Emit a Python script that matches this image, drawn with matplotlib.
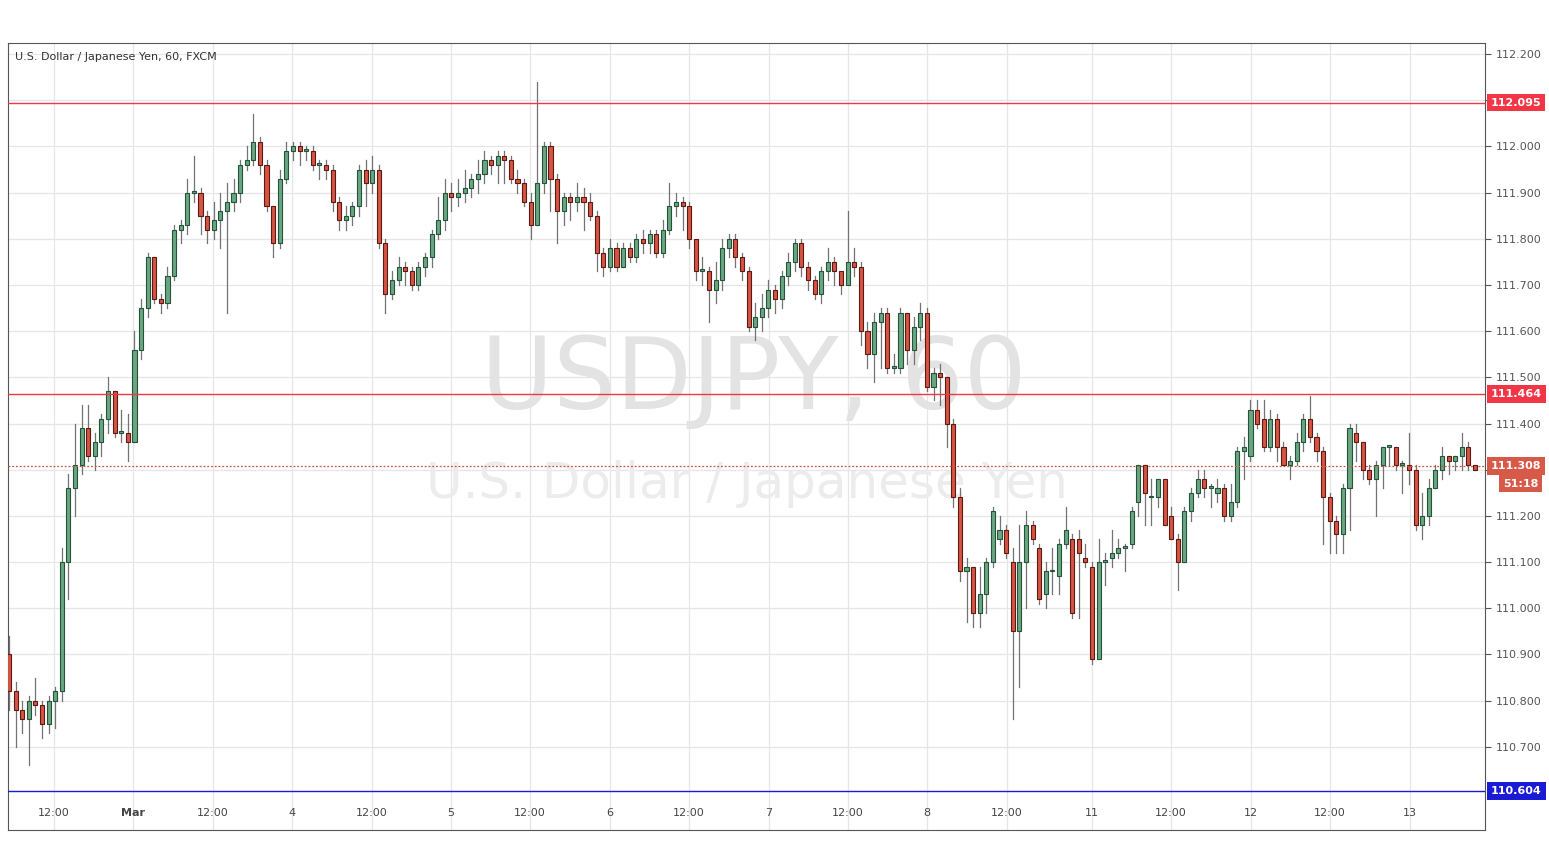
import matplotlib
matplotlib.use("Agg")
import matplotlib.pyplot as plt
from matplotlib.patches import Rectangle
from matplotlib.transforms import blended_transform_factory

# hourly candles
closes = [
    110.82, 110.78, 110.76, 110.80, 110.79, 110.75, 110.80, 110.82, 111.10, 111.26,
    111.31, 111.39, 111.33, 111.36, 111.41, 111.47, 111.38, 111.38, 111.36, 111.56,
    111.65, 111.76, 111.67, 111.66, 111.72, 111.82, 111.83, 111.90, 111.90, 111.85,
    111.82, 111.84, 111.86, 111.88, 111.90, 111.96, 111.97, 112.01, 111.96, 111.87,
    111.79, 111.93, 111.99, 112.00, 111.99, 111.99, 111.96, 111.96, 111.95, 111.88,
    111.84, 111.85, 111.87, 111.95, 111.92, 111.95, 111.79, 111.68, 111.71, 111.74,
    111.73, 111.70, 111.74, 111.76, 111.81, 111.84, 111.90, 111.89, 111.90, 111.91,
    111.93, 111.94, 111.97, 111.96, 111.98, 111.97, 111.93, 111.92, 111.88, 111.83,
    111.92, 112.00, 111.93, 111.86, 111.89, 111.88, 111.89, 111.88, 111.85, 111.77,
    111.74, 111.78, 111.74, 111.78, 111.76, 111.80, 111.79, 111.81, 111.77, 111.82,
    111.87, 111.88, 111.87, 111.80, 111.73, 111.73, 111.69, 111.71, 111.78, 111.80,
    111.76, 111.73, 111.61, 111.63, 111.65, 111.69, 111.67, 111.72, 111.75, 111.79,
    111.74, 111.71, 111.68, 111.73, 111.75, 111.73, 111.70, 111.75, 111.74, 111.60,
    111.55, 111.62, 111.64, 111.52, 111.52, 111.64, 111.56, 111.61, 111.64, 111.48,
    111.51, 111.50, 111.40, 111.24, 111.08, 111.09, 110.99, 111.03, 111.10, 111.21,
    111.17, 111.12, 110.95, 111.10, 111.18, 111.15, 111.02, 111.08, 111.08, 111.14,
    111.17, 110.99, 111.12, 111.10, 110.89, 111.10, 111.10, 111.12, 111.13, 111.13,
    111.21, 111.31, 111.25, 111.24, 111.28, 111.18, 111.15, 111.10, 111.21, 111.25,
    111.28, 111.26, 111.26, 111.26, 111.20, 111.23, 111.34, 111.35, 111.43, 111.40,
    111.35, 111.41, 111.35, 111.31, 111.32, 111.36, 111.41, 111.37, 111.34, 111.24,
    111.19, 111.16, 111.26, 111.39, 111.36, 111.30, 111.28, 111.31, 111.35, 111.35,
    111.31, 111.31, 111.30, 111.18, 111.20, 111.26, 111.30, 111.33, 111.32, 111.33,
    111.35, 111.31, 111.30,
]
highs = [
    110.94, 110.84, 110.80, 110.81, 110.85, 110.80, 110.81, 110.83, 111.13, 111.29,
    111.40, 111.44, 111.44, 111.38, 111.42, 111.50, 111.47, 111.43, 111.42, 111.60,
    111.67, 111.77, 111.76, 111.68, 111.74, 111.83, 111.84, 111.93, 111.98, 111.91,
    111.86, 111.88, 111.90, 111.92, 111.93, 111.97, 112.00, 112.07, 112.02, 111.97,
    111.87, 111.95, 112.01, 112.01, 112.01, 112.00, 112.00, 111.97, 111.97, 111.96,
    111.89, 111.87, 111.88, 111.96, 111.97, 111.98, 111.96, 111.80, 111.73, 111.76,
    111.75, 111.74, 111.75, 111.77, 111.82, 111.89, 111.93, 111.92, 111.93, 111.95,
    111.94, 111.97, 111.99, 111.98, 111.99, 111.99, 111.98, 111.95, 111.93, 111.90,
    112.14, 112.01, 112.01, 111.94, 111.90, 111.90, 111.92, 111.91, 111.90, 111.86,
    111.78, 111.80, 111.79, 111.79, 111.79, 111.81, 111.82, 111.82, 111.82, 111.84,
    111.92, 111.90, 111.89, 111.88, 111.79, 111.76, 111.74, 111.75, 111.80, 111.81,
    111.81, 111.77, 111.74, 111.66, 111.68, 111.71, 111.70, 111.73, 111.77, 111.80,
    111.80, 111.75, 111.72, 111.74, 111.78, 111.76, 111.72, 111.86, 111.78, 111.75,
    111.62, 111.64, 111.65, 111.65, 111.55, 111.65, 111.64, 111.63, 111.66, 111.65,
    111.52, 111.53, 111.50, 111.41, 111.26, 111.11, 111.09, 111.09, 111.11, 111.22,
    111.20, 111.18, 111.13, 111.18, 111.21, 111.19, 111.14, 111.10, 111.13, 111.15,
    111.22, 111.16, 111.17, 111.14, 111.10, 111.15, 111.12, 111.17, 111.15, 111.14,
    111.22, 111.31, 111.31, 111.28, 111.28, 111.28, 111.22, 111.16, 111.22, 111.26,
    111.30, 111.30, 111.27, 111.28, 111.27, 111.27, 111.35, 111.37, 111.45, 111.45,
    111.45, 111.43, 111.42, 111.36, 111.33, 111.38, 111.42, 111.46, 111.38, 111.35,
    111.25, 111.20, 111.27, 111.40, 111.40, 111.36, 111.31, 111.32, 111.35, 111.35,
    111.35, 111.32, 111.38, 111.31, 111.25, 111.28, 111.31, 111.35, 111.33, 111.33,
    111.38, 111.36, 111.31,
]
lows = [
    110.78, 110.70, 110.73, 110.66, 110.77, 110.72, 110.73, 110.74, 110.80, 111.02,
    111.20, 111.29, 111.32, 111.30, 111.33, 111.38, 111.37, 111.36, 111.32, 111.36,
    111.54, 111.63, 111.66, 111.64, 111.65, 111.71, 111.79, 111.81, 111.88, 111.81,
    111.79, 111.80, 111.78, 111.64, 111.86, 111.88, 111.95, 111.96, 111.94, 111.86,
    111.76, 111.78, 111.92, 111.97, 111.96, 111.97, 111.95, 111.93, 111.93, 111.86,
    111.82, 111.82, 111.83, 111.85, 111.87, 111.90, 111.78, 111.64, 111.67, 111.70,
    111.70, 111.69, 111.69, 111.72, 111.74, 111.80, 111.82, 111.86, 111.87, 111.88,
    111.89, 111.90, 111.92, 111.94, 111.92, 111.92, 111.92, 111.90, 111.87, 111.80,
    111.83, 111.90, 111.86, 111.79, 111.83, 111.84, 111.86, 111.82, 111.84, 111.73,
    111.72, 111.73, 111.73, 111.74, 111.75, 111.75, 111.77, 111.77, 111.76, 111.76,
    111.81, 111.85, 111.82, 111.78, 111.71, 111.70, 111.62, 111.66, 111.69, 111.76,
    111.74, 111.71, 111.60, 111.58, 111.60, 111.63, 111.64, 111.65, 111.70, 111.73,
    111.72, 111.69, 111.67, 111.66, 111.71, 111.70, 111.68, 111.73, 111.72, 111.57,
    111.52, 111.49, 111.52, 111.51, 111.51, 111.51, 111.53, 111.53, 111.58, 111.47,
    111.45, 111.44, 111.35, 111.22, 111.06, 110.97, 110.96, 110.96, 110.99, 111.09,
    111.14, 111.11, 110.76, 110.83, 111.00, 111.14, 111.01, 111.00, 111.03, 111.03,
    111.13, 110.98, 110.98, 111.09, 110.88, 110.89, 111.05, 111.09, 111.11, 111.08,
    111.13, 111.20, 111.18, 111.18, 111.22, 111.18, 111.15, 111.04, 111.10, 111.19,
    111.24, 111.24, 111.22, 111.23, 111.19, 111.19, 111.22, 111.28, 111.32, 111.39,
    111.34, 111.34, 111.32, 111.31, 111.28, 111.31, 111.34, 111.36, 111.32, 111.14,
    111.12, 111.12, 111.12, 111.17, 111.32, 111.28, 111.27, 111.20, 111.26, 111.31,
    111.30, 111.25, 111.27, 111.17, 111.15, 111.18, 111.26, 111.28, 111.29, 111.30,
    111.30, 111.30, 111.30,
]
# opens: first candle, then previous close, except where the chart shows gaps
opens_late = [
    111.15, 111.17, 111.10, 110.95, 111.10, 111.18, 111.13, 111.03, 111.08, 111.07,
    111.14, 111.15, 111.15, 111.11, 111.09, 110.89, 111.10, 111.11, 111.12, 111.13,
    111.14, 111.23, 111.31, 111.24, 111.24, 111.28, 111.20, 111.15, 111.10, 111.21,
    111.25, 111.28, 111.26, 111.25, 111.26, 111.20, 111.23, 111.34, 111.33, 111.43,
    111.41, 111.35, 111.41, 111.35, 111.31, 111.32, 111.36, 111.41, 111.37, 111.34,
    111.24, 111.19, 111.16, 111.26, 111.38, 111.36, 111.30, 111.28, 111.31, 111.35,
    111.35, 111.31, 111.31, 111.30, 111.18, 111.20, 111.26, 111.30, 111.33, 111.32,
    111.33, 111.35, 111.31,
]
opens = [110.90] + closes[:149] + opens_late

day_labels = ["12:00", "Mar", "12:00", "4", "12:00", "5", "12:00", "6", "12:00", "7",
              "12:00", "8", "12:00", "11", "12:00", "12", "12:00", "13"]
day_pix = [54, 133, 213, 292, 372, 451, 530, 610, 689, 769, 848, 927, 1007, 1092, 1171, 1251, 1330, 1410]

levels = [112.095, 111.464, 110.604]
level_colors = ["#f23645", "#f23645", "#1b1bd6"]
last_price = 111.308

price_ticks = [round(110.7 + 0.1 * k, 1) for k in range(16)]

UP_FILL, UP_EDGE = "#6ba583", "#225437"
DN_FILL, DN_EDGE = "#d75442", "#5b1a13"
WICK = "#737375"

fig = plt.figure(figsize=(15.49, 8.68), dpi=100)
fig.patch.set_facecolor("white")
ax = fig.add_axes([8 / 1549, 38 / 868, 1477 / 1549, 787 / 868])

x0 = 9
step = (1475 - x0) / (len(closes) - 1)
ax.set_xlim((8 - x0) / step, (1485 - x0) / step)
ax.set_ylim(110.52, 112.224)

for p in price_ticks:
    ax.axhline(p, color="#e6e6e6", lw=0.9, zorder=0)
for px in day_pix:
    ax.axvline((px - x0) / step, color="#e6e6e6", lw=0.9, zorder=0)

w = 0.62
for i, (o, h, l, c) in enumerate(zip(opens, highs, lows, closes)):
    up = c >= o
    ax.plot([i, i], [l, h], color=WICK, lw=0.9, zorder=2)
    lo, hi = min(o, c), max(o, c)
    if hi - lo < 0.004:
        hi = lo + 0.004
    ax.add_patch(Rectangle((i - w / 2, lo), w, hi - lo,
                           facecolor=UP_FILL if up else DN_FILL,
                           edgecolor=UP_EDGE if up else DN_EDGE, lw=0.8, zorder=3))

for lv, col in zip(levels, level_colors):
    ax.axhline(lv, color=col, lw=1.0, zorder=4)
ax.axhline(last_price, color="#c9563f", lw=0.9, ls=(0, (1.5, 1.5)), zorder=4)

# watermark
ax.text(0.505, 0.57, "USDJPY, 60", transform=ax.transAxes, ha="center", va="center",
        fontsize=71, color="#e3e3e3", zorder=1)
ax.text(0.5, 0.44, "U.S. Dollar / Japanese Yen", transform=ax.transAxes, ha="center",
        va="center", fontsize=36, color="#ececec", zorder=1)
ax.text(0.005, 0.988, "U.S. Dollar / Japanese Yen, 60, FXCM", transform=ax.transAxes,
        ha="left", va="top", fontsize=8, color="#333333")

# right price scale; labels hidden where a price box sits on them
hidden = {112.1, 111.3}
ax.yaxis.tick_right()
ax.set_yticks(price_ticks)
ax.set_yticklabels(["" if p in hidden else f"{p:.3f}" for p in price_ticks],
                   fontsize=8, color="#555555")
ax.tick_params(axis="y", length=4, color="#555555", pad=4)
ax.set_xticks([])
for sp in ax.spines.values():
    sp.set_color("#555555")

trans_y = blended_transform_factory(ax.transAxes, ax.transData)
box_vals = [112.095, 111.464, last_price, 110.604]
box_cols = ["#f23645", "#f23645", "#d65a47", "#1b1bd6"]
for v, col in zip(box_vals, box_cols):
    ax.text(1.004, v, f"{v:.3f}", transform=trans_y, ha="left", va="center", fontsize=8,
            fontweight="bold", color="white",
            bbox=dict(boxstyle="square,pad=0.35", fc=col, ec="none"), zorder=6, clip_on=False)
ax.text(1.012, last_price - 0.038, "51:18", transform=trans_y, ha="left", va="center",
        fontsize=8, fontweight="bold", color="white",
        bbox=dict(boxstyle="square,pad=0.35", fc="#d65a47", ec="none"), zorder=6, clip_on=False)

trans_x = blended_transform_factory(ax.transData, ax.transAxes)
for lab, px in zip(day_labels, day_pix):
    ax.text((px - x0) / step, 0.015, lab, transform=trans_x, ha="center", va="bottom",
            fontsize=8, color="#444444", fontweight="bold" if lab == "Mar" else "normal")

fig.savefig("out.png", dpi=100)
